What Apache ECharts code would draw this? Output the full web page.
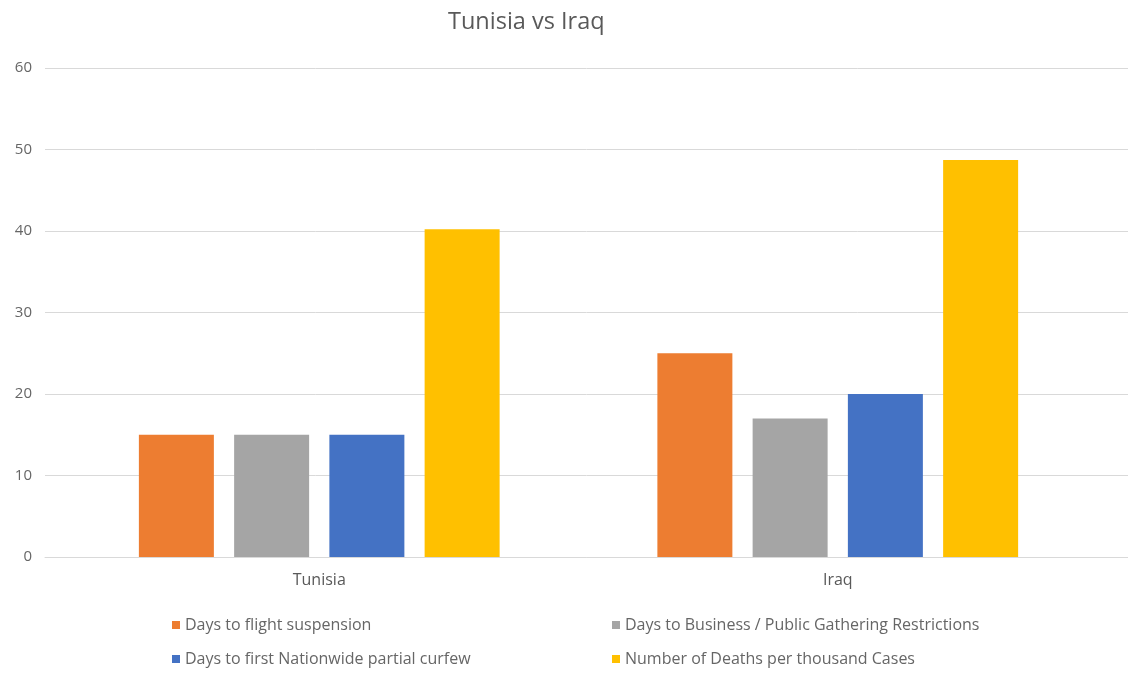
<!DOCTYPE html>
<html><head><meta charset="utf-8">
<script src="https://cdn.jsdelivr.net/npm/echarts@6/dist/echarts.min.js"></script>
<style>html,body{margin:0;padding:0;background:#fff}#c{width:1128px;height:673px}</style>
</head><body><div id="c"></div>
<script>
const categories = ['Tunisia', 'Iraq'];
const seriesNames = ['Days to flight suspension', 'Days to Business / Public Gathering Restrictions', 'Days to first Nationwide partial curfew', 'Number of Deaths per thousand Cases'];
const flightSuspension = [15, 25];
const businessRestrictions = [15, 17];
const partialCurfew = [15, 20];
const deathsPerThousand = [40.2, 48.7];
const colors = ['#ED7D31', '#A5A5A5', '#4472C4', '#FFC000'];
const yMin = 0, yMax = 60, yStep = 10;

const values = [flightSuspension, businessRestrictions, partialCurfew, deathsPerThousand];
const font = 'Open Sans';
const chart = echarts.init(document.getElementById('c'));
const legendText = { fontSize: 16, color: '#666666', fontFamily: font };
chart.setOption({
  animation: false,
  textStyle: { fontFamily: font },
  title: { text: 'Tunisia vs Iraq', left: 443, top: 5,
    textStyle: { fontFamily: font, fontSize: 23.5, fontWeight: 'normal', color: '#595959' } },
  legend: [
    { data: [seriesNames[0], seriesNames[2]], orient: 'vertical', left: 167, top: 612, itemGap: 18, itemTextGap: 5,
      icon: 'rect', itemWidth: 8, itemHeight: 8, textStyle: legendText },
    { data: [seriesNames[1], seriesNames[3]], orient: 'vertical', left: 607, top: 612, itemGap: 18, itemTextGap: 5,
      icon: 'rect', itemWidth: 8, itemHeight: 8, textStyle: legendText }
  ],
  grid: [
    { left: 60, right: 31, top: 68, bottom: 116 },
    { left: 45, right: 0, top: 68, bottom: 116 }
  ],
  xAxis: [
    { type: 'category', gridIndex: 0, data: categories, axisLine: { show: false }, axisTick: { show: false },
      axisLabel: { color: '#595959', fontSize: 16, margin: 15 } },
    { type: 'value', gridIndex: 1, min: 0, max: 1, axisLine: { show: true, lineStyle: { color: '#D9D9D9' } },
      axisTick: { show: false }, axisLabel: { show: false }, splitLine: { show: false } }
  ],
  yAxis: [
    { type: 'value', gridIndex: 0, min: yMin, max: yMax, interval: yStep, show: false, splitLine: { show: false } },
    { type: 'value', gridIndex: 1, min: yMin, max: yMax, interval: yStep,
      axisLine: { show: false }, axisTick: { show: false },
      axisLabel: { color: '#666666', fontSize: 15, margin: 13 },
      splitLine: { lineStyle: { color: '#D9D9D9' } } }
  ],
  series: seriesNames.map((n, i) => ({
    name: n, type: 'bar', xAxisIndex: 0, yAxisIndex: 0, data: values[i],
    barWidth: 75, barGap: '27%', itemStyle: { color: colors[i] }
  }))
});
</script></body></html>
